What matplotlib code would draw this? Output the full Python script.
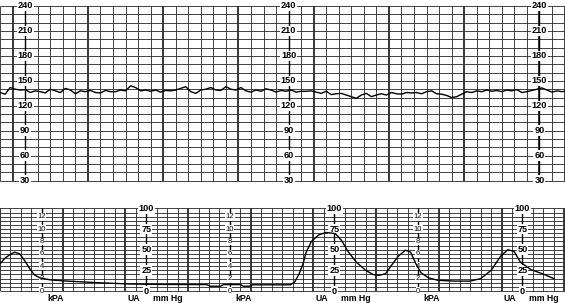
import numpy as np
import matplotlib.pyplot as plt

# fetal heart rate (bpm), one reading every 4 s starting at -10 s
fhr_start = -10
fhr_step = 4
fhr_bpm = [136, 134, 142, 140, 139, 139.5, 136, 138, 137, 135.5,
           140, 138, 136, 141, 139, 134.5, 138, 137, 138.5, 136,
           135.5, 138.5, 137, 137, 139, 138, 144, 142, 138, 139,
           137.5, 139, 136.5, 138.5, 138, 139, 141, 143, 137, 135,
           139, 140, 142, 139, 138.5, 143, 140, 139, 142, 138,
           136.5, 139, 137.5, 140.5, 139, 136.5, 138.5, 137.5, 139, 136.5,
           137.5, 137.5, 138, 136.5, 135, 137.5, 133.5, 134.5, 135, 133,
           131, 129, 133, 135, 131, 133, 134.5, 133, 136, 134.5,
           134, 136, 135.5, 136, 134.5, 137, 138, 134.5, 134, 132.5,
           130, 131, 134, 137, 136, 138, 137, 139, 137.5, 138.5,
           137, 139, 138, 139.5, 136, 137, 138.5, 140, 141.5, 139,
           136.5, 138, 137, 138]

# uterine activity (mm Hg) against time (s)
ua_time = [0, 5, 10, 14, 19, 24, 29, 33, 38, 48, 64, 95, 124, 152, 190,
           198, 201, 211, 214, 230, 233, 239, 242, 278, 282, 286, 290, 293,
           298, 305, 312, 321, 327, 333, 341, 350, 357, 363, 369, 374, 381,
           388, 393, 398, 403, 410, 419, 435, 450, 460, 470, 479, 486, 492,
           498, 508, 521, 530]
ua_mmhg = [33, 40, 44.5, 47, 45, 36, 26, 19.5, 16, 13.5, 12, 10, 8.5, 8, 7.8,
           7.8, 5.8, 5.8, 7.8, 7.8, 5.8, 5.8, 7.5, 7.5, 11, 20, 33, 47,
           60, 68, 71, 69.5, 61, 48, 35, 25, 20, 19, 21, 30, 42,
           49.5, 47, 33, 22, 16, 13, 12, 12, 15, 25, 42, 50, 48,
           35, 26, 20, 15]

bpm_labels = [240, 210, 180, 150, 120, 90, 60, 30]
mmhg_labels = [100, 75, 50, 25, 0]
kpa_labels = [12, 10, 8, 6, 4, 2, 0]

fhr_label_times = [10, 220, 420]
kpa_label_times = [40, 220, 400]
ua_label_times = [140, 320, 500]

thin = dict(color='#333333', lw=0.65)
thick = dict(color='black', lw=1.1)
lab = dict(ha='center', va='center', family='Liberation Sans', fontweight='bold',
           bbox=dict(facecolor='white', edgecolor='none', pad=0.6))

fig = plt.figure(figsize=(5.65, 3.03), dpi=100)

# ---- heart rate strip
ax1 = fig.add_axes([0, 0.4036, 1, 0.5766])
ax1.set_xlim(-10.13, 440.4)
ax1.set_ylim(30, 240)
ax1.axis('off')

for t in range(-10, 441, 10):
    style = thick if t % 60 == 0 else thin
    ax1.vlines(t, 30, 240, clip_on=False, **style)
ax1.hlines(np.arange(30, 241, 10), -10.13, 440.4, clip_on=False, **thin)

for t in fhr_label_times:
    ax1.vlines(t, 30, 240, color='black', lw=1.0, clip_on=False)
    for v in bpm_labels:
        ax1.text(t, v, str(v), fontsize=6.6, clip_on=False, **lab)

fhr_t = fhr_start + fhr_step * np.arange(len(fhr_bpm))
ax1.plot(fhr_t, fhr_bpm, color='black', lw=1.0, clip_on=False, zorder=5)

# ---- uterine activity strip
ax2 = fig.add_axes([0, 0.0396, 1, 0.2723])
ax2.set_xlim(0, 540.7)
ax2.set_ylim(0, 100)
ax2.axis('off')

for t in range(0, 541, 10):
    style = thick if t % 60 == 0 else thin
    ax2.vlines(t, 0, 100, clip_on=False, **style)
ax2.hlines(np.arange(0, 101, 5), 0, 540.7, clip_on=False, **thin)

for t in kpa_label_times:
    ax2.vlines(t, 0, 100, color='black', lw=1.0)
    for k in kpa_labels:
        ax2.text(t, k * 7.5, str(k), fontsize=5.5, ha='center', va='center',
                 family='Liberation Sans', clip_on=False,
                 bbox=dict(facecolor='white', edgecolor='none', pad=0.3))
    ax2.text(t + 5, -8.5, 'kPA', ha='left', va='center', fontsize=6.3,
             family='Liberation Sans', fontweight='bold', clip_on=False)

for t in ua_label_times:
    ax2.vlines(t, 0, 100, color='black', lw=1.0)
    for v in mmhg_labels:
        ax2.text(t, v, str(v), fontsize=6.6, clip_on=False, **lab)
    ax2.text(t - 6, -8.5, 'UA', ha='right', va='center', fontsize=6.3,
             family='Liberation Sans', fontweight='bold', clip_on=False)
    ax2.text(t + 6, -8.5, 'mm Hg', ha='left', va='center', fontsize=6.3,
             family='Liberation Sans', fontweight='bold', clip_on=False)

ax2.plot(ua_time, ua_mmhg, color='black', lw=1.0, zorder=5)

fig.savefig('out.png', dpi=100, facecolor='white')
